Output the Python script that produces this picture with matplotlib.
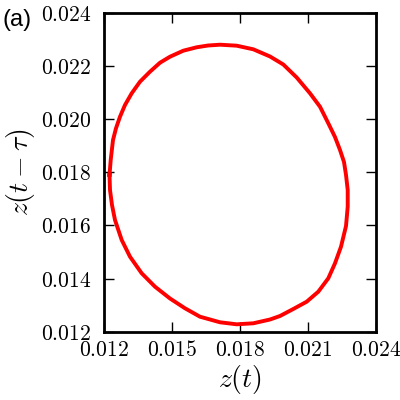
import matplotlib
matplotlib.use('Agg')
from matplotlib import pyplot as plt

z_t = [0.012243, 0.012296, 0.012397, 0.012529, 0.012706, 0.012926, 0.013222, 0.013588,
       0.014029, 0.014471, 0.014912, 0.015499, 0.016090, 0.016588, 0.017118, 0.017854,
       0.018587, 0.019324, 0.019910, 0.020502, 0.021088, 0.021529, 0.021896, 0.022191,
       0.022412, 0.022588, 0.022677, 0.022752, 0.022752, 0.022677, 0.022456, 0.022191,
       0.021896, 0.021454, 0.020943, 0.020351, 0.019765, 0.019324, 0.018587, 0.017854,
       0.017118, 0.016235, 0.015574, 0.014912, 0.014250, 0.013663, 0.013147, 0.012781,
       0.012485, 0.012353, 0.012265]
z_lag = [0.017895, 0.018459, 0.019211, 0.019652, 0.020088, 0.020528, 0.020968, 0.021405,
         0.021781, 0.022119, 0.022345, 0.022571, 0.022699, 0.022766, 0.022796, 0.022759,
         0.022623, 0.022353, 0.022052, 0.021562, 0.020968, 0.020464, 0.019840, 0.019324,
         0.018835, 0.018384, 0.017895, 0.017331, 0.016702, 0.015976, 0.015198, 0.014573,
         0.014009, 0.013505, 0.013129, 0.012854, 0.012591, 0.012459, 0.012316, 0.012278,
         0.012354, 0.012564, 0.012880, 0.013249, 0.013693, 0.014197, 0.014821, 0.015450,
         0.016202, 0.016766, 0.017331]
# close the loop
z_t = z_t + z_t[:1]
z_lag = z_lag + z_lag[:1]

xticks = [0.012, 0.015, 0.018, 0.021, 0.024]
yticks = [0.012, 0.014, 0.016, 0.018, 0.020, 0.022, 0.024]

plt.rcParams['mathtext.fontset'] = 'cm'

fig = plt.figure(figsize=(4, 4), dpi=100)
ax = fig.add_axes([0.26, 0.17075, 0.68, 0.7975])
ax.plot(z_t, z_lag, color='red', lw=2.8, solid_joinstyle='round')

ax.set_xlim(0.012, 0.024)
ax.set_ylim(0.012, 0.024)
ax.set_xticks(xticks)
ax.set_yticks(yticks)
ax.set_xticklabels([f'${v:.3f}$' for v in xticks], fontsize=15.5)
ax.set_yticklabels([f'${v:.3f}$' for v in yticks], fontsize=15.5)
ax.tick_params(direction='in', top=True, right=True, length=7.5, width=1)
ax.tick_params(axis='x', pad=6)
ax.tick_params(axis='y', pad=9)
for s in ax.spines.values():
    s.set_linewidth(2)

ax.set_xlabel(r'$z(t)$', fontsize=20, labelpad=2)
ax.set_ylabel(r'$z(t-\tau)$', fontsize=20, labelpad=3)
fig.text(0.006, 0.978, '(a)', fontsize=17, family='Liberation Sans', va='top')

fig.savefig('out.png', dpi=100)
